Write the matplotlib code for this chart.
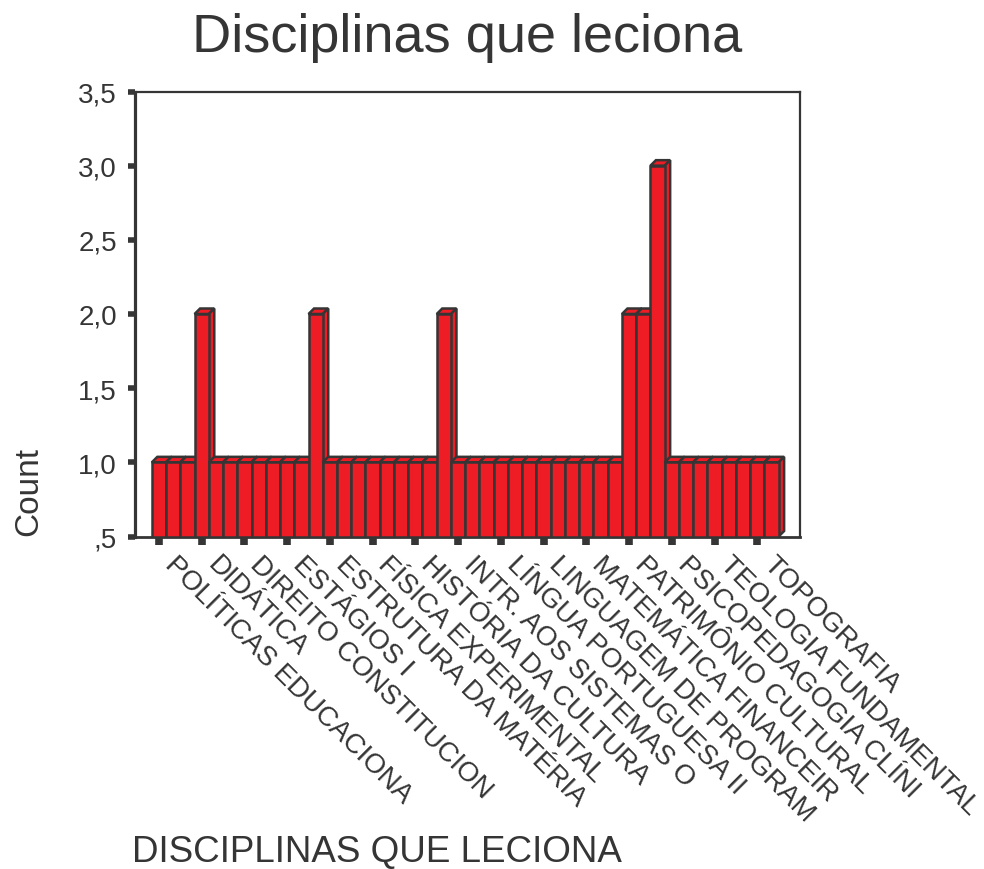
import numpy as np
import matplotlib.pyplot as plt
from matplotlib.patches import Polygon
from matplotlib.transforms import ScaledTranslation

plt.rcParams['font.family'] = ['Liberation Sans', 'DejaVu Sans']

# frequency of each subject (44 categories, only every third one is labelled)
counts = [1, 1, 1, 2, 1, 1, 1, 1, 1, 1, 1, 2, 1, 1, 1, 1, 1, 1, 1, 1, 2, 1,
          1, 1, 1, 1, 1, 1, 1, 1, 1, 1, 1, 2, 2, 3, 1, 1, 1, 1, 1, 1, 1, 1]
tick_labels = ['POLÍTICAS EDUCACIONA', 'DIDÁTICA', 'DIREITO CONSTITUCION',
               'ESTÁGIOS I', 'ESTRUTURA DA MATÉRIA', 'FÍSICA EXPERIMENTAL',
               'HISTÓRIA DA CULTURA', 'INTR. AOS SISTEMAS O',
               'LÍNGUA PORTUGUESA II', 'LINGUAGEM DE PROGRAM',
               'MATEMÁTICA FINANCEIR', 'PATRIMÔNIO CULTURAL',
               'PSICOPEDAGOGIA CLÍNI', 'TEOLOGIA FUNDAMENTAL', 'TOPOGRAFIA']
yticks = [0.5, 1.0, 1.5, 2.0, 2.5, 3.0, 3.5]
ytick_labels = [',5', '1,0', '1,5', '2,0', '2,5', '3,0', '3,5']

red = '#ee1c25'
dark = '#353535'

fig = plt.figure(figsize=(9.84, 8.70), dpi=100)
ax = fig.add_axes([135 / 984, 1 - 537.5 / 870, 665 / 984, 445 / 870])
ax.set_xlim(-1.68, 45.0)
ax.set_ylim(0.5, 3.5)

x = np.arange(len(counts))
heights = np.array(counts) - 0.5
bars = ax.bar(x, heights, bottom=0.5, width=1.0, color=red,
              edgecolor=dark, linewidth=1.8)

# depth of the 3D effect, given in pixels and converted to data units
depth = 5.5
inv = ax.transData.inverted()
p0 = inv.transform((0, 0))
p1 = inv.transform((depth, depth))
ddx, ddy = p1 - p0

for i, (rect, v) in enumerate(zip(bars, counts)):
    z = 2 + 0.01 * i
    rect.set_zorder(z + 0.005)
    rect.set_joinstyle('miter')
    left = rect.get_x()
    right = left + rect.get_width()
    top = [(left, v), (left + ddx, v + ddy), (right + ddx, v + ddy), (right, v)]
    side = [(right, 0.5), (right, v), (right + ddx, v + ddy), (right + ddx, 0.5 + ddy)]
    for pts in (top, side):
        ax.add_patch(Polygon(pts, closed=True, facecolor=red, edgecolor=dark,
                             linewidth=1.8, zorder=z, joinstyle='miter'))

# axes frame
for name, sp in ax.spines.items():
    sp.set_color(dark)
    sp.set_linewidth(1.6)
    sp.set_zorder(1)
ax.spines['left'].set_linewidth(2.3)
ax.spines['bottom'].set_linewidth(2.0)

ax.set_yticks(yticks)
ax.set_yticklabels(ytick_labels)
ax.tick_params(axis='y', direction='out', length=5, width=4, color=dark,
               labelsize=20, labelcolor=dark, pad=8)

ax.set_xticks(x[::3])
ax.set_xticklabels(tick_labels, rotation=-45, ha='left', va='top',
                   rotation_mode='anchor', fontsize=20, color=dark)
ax.tick_params(axis='x', direction='out', length=5.5, width=5.5, color=dark,
               pad=5)
shift = ScaledTranslation(0.19, 0, fig.dpi_scale_trans)
for lab in ax.get_xticklabels():
    lab.set_transform(lab.get_transform() + shift)

fig.text(467 / 984, 1 - 52 / 870, 'Disciplinas que leciona', fontsize=39,
         color=dark, ha='center', va='baseline')
fig.text(29 / 984, 1 - 492 / 870, 'Count', fontsize=24, rotation=90,
         color=dark, ha='center', va='center')
fig.text(132 / 984, 1 - 862 / 870, 'DISCIPLINAS QUE LECIONA', fontsize=26.5,
         color=dark, ha='left', va='baseline')

fig.savefig('out.png', dpi=100)
